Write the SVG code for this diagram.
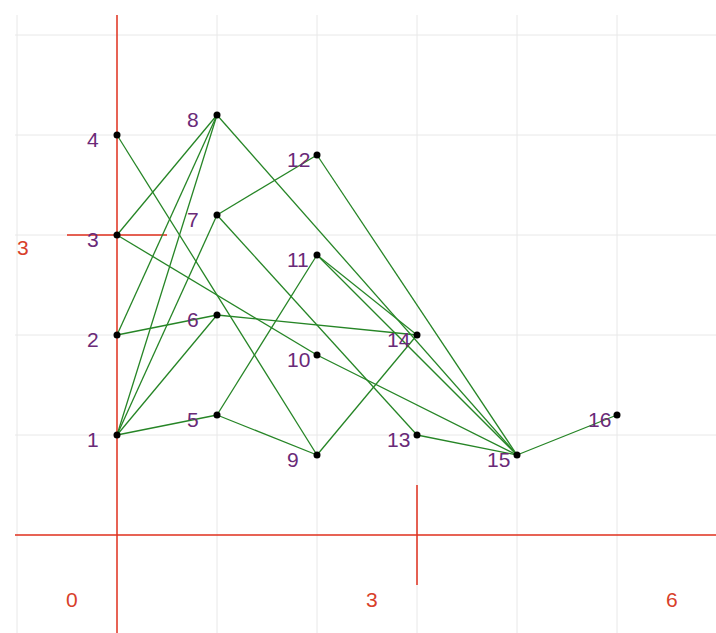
<svg xmlns="http://www.w3.org/2000/svg" width="716" height="633" viewBox="0 0 716 633">
<style>
.grid{stroke:#e8e8e8;stroke-width:1;fill:none}
.axis{stroke:#e0301e;stroke-width:1.5;fill:none}
.edge{stroke:#268526;stroke-width:1.3;fill:none}
.dot{fill:#000}
.lbl{font-family:"Liberation Sans",Arial,sans-serif;font-size:21px;fill:#6a2a78}
.ax{font-family:"Liberation Sans",Arial,sans-serif;font-size:21px;fill:#d8402a}
</style>
<rect width="716" height="633" fill="#fff"/>
<g id="grid">
<path class="grid" d="M17 15V633M217 15V633M317 15V633M417 15V633M517 15V633M617 15V633M15 35H716M15 135H716M15 235H716M15 335H716M15 435H716M15 635H716"/>
</g>
<g id="axes">
<path class="axis" d="M117 15V633M15 535H716M417 485V585M67 235H167"/>
<text class="ax" x="17" y="255">3</text>
<text class="ax" x="66" y="607">0</text>
<text class="ax" x="366" y="607">3</text>
<text class="ax" x="666" y="607">6</text>
</g>
<g id="connectors">
<line class="edge" x1="117" y1="435" x2="217" y2="415"/>
<line class="edge" x1="117" y1="435" x2="217" y2="315"/>
<line class="edge" x1="117" y1="435" x2="217" y2="215"/>
<line class="edge" x1="117" y1="435" x2="217" y2="115"/>
<line class="edge" x1="117" y1="335" x2="217" y2="115"/>
<line class="edge" x1="117" y1="235" x2="217" y2="115"/>
<line class="edge" x1="117" y1="335" x2="217" y2="315"/>
<line class="edge" x1="217" y1="315" x2="417" y2="335"/>
<line class="edge" x1="117" y1="235" x2="317" y2="355"/>
<line class="edge" x1="317" y1="355" x2="517" y2="455"/>
<line class="edge" x1="117" y1="135" x2="317" y2="455"/>
<line class="edge" x1="217" y1="415" x2="317" y2="455"/>
<line class="edge" x1="217" y1="415" x2="317" y2="255"/>
<line class="edge" x1="217" y1="215" x2="317" y2="155"/>
<line class="edge" x1="217" y1="215" x2="417" y2="435"/>
<line class="edge" x1="217" y1="115" x2="517" y2="455"/>
<line class="edge" x1="317" y1="155" x2="517" y2="455"/>
<line class="edge" x1="317" y1="255" x2="417" y2="335"/>
<line class="edge" x1="317" y1="255" x2="517" y2="455"/>
<line class="edge" x1="317" y1="455" x2="417" y2="335"/>
<line class="edge" x1="417" y1="435" x2="517" y2="455"/>
<line class="edge" x1="517" y1="455" x2="617" y2="415"/>
</g>
<g id="n1"><circle class="dot" cx="117" cy="435" r="3.5"/><text class="lbl" x="87" y="447">1</text></g>
<g id="n2"><circle class="dot" cx="117" cy="335" r="3.5"/><text class="lbl" x="87" y="347">2</text></g>
<g id="n3"><circle class="dot" cx="117" cy="235" r="3.5"/><text class="lbl" x="87" y="247">3</text></g>
<g id="n4"><circle class="dot" cx="117" cy="135" r="3.5"/><text class="lbl" x="87" y="147">4</text></g>
<g id="n5"><circle class="dot" cx="217" cy="415" r="3.5"/><text class="lbl" x="187" y="427">5</text></g>
<g id="n6"><circle class="dot" cx="217" cy="315" r="3.5"/><text class="lbl" x="187" y="327">6</text></g>
<g id="n7"><circle class="dot" cx="217" cy="215" r="3.5"/><text class="lbl" x="187" y="227">7</text></g>
<g id="n8"><circle class="dot" cx="217" cy="115" r="3.5"/><text class="lbl" x="187" y="127">8</text></g>
<g id="n9"><circle class="dot" cx="317" cy="455" r="3.5"/><text class="lbl" x="287" y="467">9</text></g>
<g id="n10"><circle class="dot" cx="317" cy="355" r="3.5"/><text class="lbl" x="287" y="367">10</text></g>
<g id="n11"><circle class="dot" cx="317" cy="255" r="3.5"/><text class="lbl" x="287" y="267">11</text></g>
<g id="n12"><circle class="dot" cx="317" cy="155" r="3.5"/><text class="lbl" x="287" y="167">12</text></g>
<g id="n13"><circle class="dot" cx="417" cy="435" r="3.5"/><text class="lbl" x="387" y="447">13</text></g>
<g id="n14"><circle class="dot" cx="417" cy="335" r="3.5"/><text class="lbl" x="387" y="347">14</text></g>
<g id="n15"><circle class="dot" cx="517" cy="455" r="3.5"/><text class="lbl" x="487" y="467">15</text></g>
<g id="n16"><circle class="dot" cx="617" cy="415" r="3.5"/><text class="lbl" x="588" y="427">16</text></g>
</svg>
